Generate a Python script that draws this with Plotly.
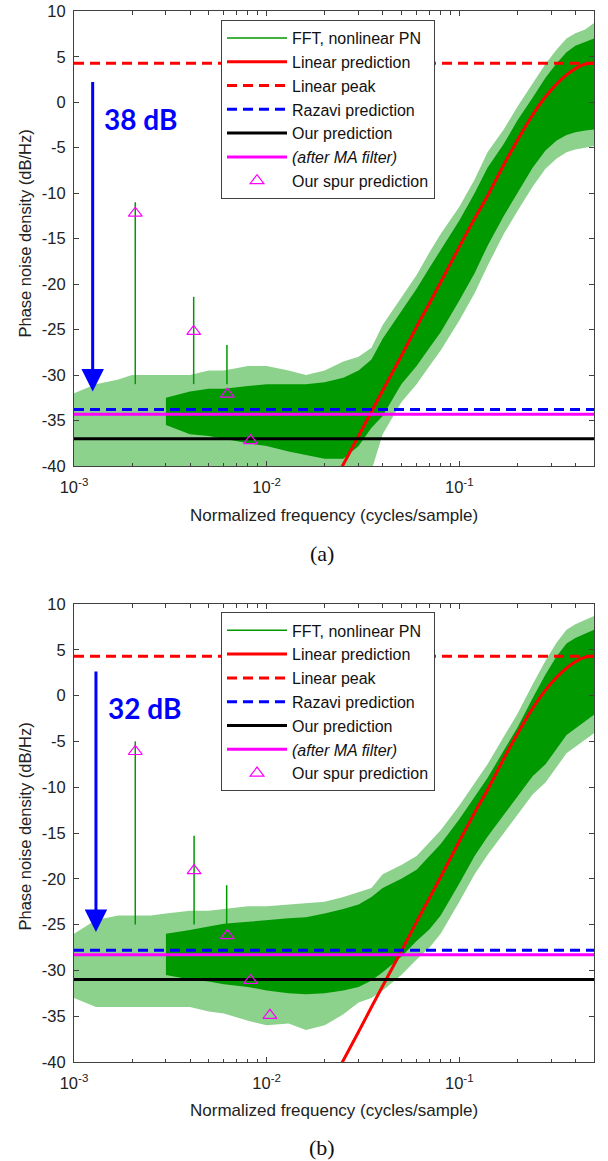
import numpy as np
import plotly.graph_objects as go

# ---------------- data ----------------
x_range = [0.001, 0.5]
y_range = [-40, 10]
x_tickvals = [0.001, 0.01, 0.1]
x_ticktext = ["10<sup>-3</sup>", "10<sup>-2</sup>", "10<sup>-1</sup>"]
y_tickvals = [-40, -35, -30, -25, -20, -15, -10, -5, 0, 5, 10]
y_ticktext = ["-40", "-35", "-30", "-25", "-20", "-15", "-10", "-5", "0", "5", "10"]

# linear prediction (red solid) – same in both panels
lin_f = [0.0243, 0.03, 0.035, 0.04, 0.05, 0.06, 0.07, 0.08, 0.1, 0.12, 0.14,
         0.17, 0.2, 0.24, 0.28, 0.32, 0.36, 0.4, 0.45, 0.5]
lin_db = [-40.3, -36.7, -34.0, -31.7, -27.9, -24.7, -22.1, -19.8, -15.9, -12.8,
          -10.3, -6.9, -4.2, -1.4, 0.6, 2.0, 3.0, 3.7, 4.2, 4.3]
peak_db = 4.3

# FFT envelope frequency grids
band_out_f = [0.001, 0.0013, 0.0017, 0.002, 0.0025, 0.003, 0.004, 0.005, 0.006,
              0.008, 0.01, 0.013, 0.016, 0.02, 0.025, 0.03, 0.035, 0.04, 0.05,
              0.06, 0.07, 0.08, 0.1, 0.12, 0.14, 0.17, 0.2, 0.24, 0.28, 0.32,
              0.36, 0.4, 0.45, 0.5]
band_in_f = [0.003, 0.004, 0.005, 0.006, 0.008, 0.01, 0.013, 0.016, 0.02, 0.025,
             0.03, 0.035, 0.04, 0.05, 0.06, 0.07, 0.08, 0.1, 0.12, 0.14, 0.17,
             0.2, 0.24, 0.28, 0.32, 0.36, 0.4, 0.45, 0.5]

# ---- panel (a) ----
out_up_a = [-32, -31, -30.5, -30, -30, -30, -30, -29.5, -29.5, -29, -29, -29.5,
            -30, -29.5, -28.5, -28, -27, -24.5, -21.5, -19, -16.5, -14.5, -11.5,
            -8.5, -5.5, -3.0, -0.5, 2.0, 4.2, 5.8, 7.0, 7.6, 8.0, 8.7]
out_lo_a = [-41, -41, -41, -41, -41, -41, -41, -41, -41, -41, -41, -41, -41,
            -41, -41, -41, -40.5, -36.5, -33, -31, -29, -27.3, -24, -21,
            -18, -14.5, -12, -9.3, -7.3, -6.2, -5.5, -5.2, -5.0, -4.8]
in_up_a = [-32.5, -31.8, -31.5, -31.5, -31.2, -31, -31, -31, -30.8, -30.3, -29.5,
           -28.3, -26, -23, -20.5, -18.2, -16.2, -13, -10, -7.2, -4.6, -2, 0.5,
           2.7, 4.3, 5.5, 6.2, 6.6, 7.0]
in_lo_a = [-35.5, -36.5, -36.7, -37, -37.5, -37.8, -38.4, -38.8, -39.2, -39.2,
           -37.8, -35.8, -34.5, -31, -29, -27, -25.3, -21.8, -18.8, -15.8, -12.5,
           -10, -7.2, -5.3, -4.2, -3.6, -3.3, -3.1, -3.0]
spur_f_a = [0.00208, 0.00418, 0.00622]
spur_top_a = [-11.0, -21.4, -26.7]
spur_base_a = [-31.0, -31.0, -31.0]
spur_pred_f_a = [0.00208, 0.00418, 0.00625, 0.00824]
spur_pred_db_a = [-12.2, -25.2, -32.1, -37.2]
razavi_a = -33.8
ours_a = -37.0
ma_a = -34.3
arrow_f_a, arrow_top_a, arrow_tip_a = 0.00125, 2.4, -31.8
label_a = "38 dB"
label_f_a, label_db_a = 0.0014, -1.85

# ---- panel (b) ----
out_up_b = [-26, -24.5, -24, -24, -24, -23.8, -23.5, -23.5, -23.3, -23, -23,
            -22.8, -22.7, -22.5, -22, -21.5, -21, -19.5, -18.5, -17.5, -16,
            -14.7, -12, -9.5, -7.5, -4.5, -2, 1.2, 3.8, 5.8, 7.2, 7.8, 8.3, 8.7]
out_lo_b = [-33, -34, -34, -34, -34, -34, -34, -34.5, -34.7, -35.5, -36, -35.8,
            -36.5, -36, -34.8, -33.5, -33, -32.2, -30.5, -28.8, -27.5, -26,
            -22.5, -19.5, -17.4, -15, -13, -10.8, -9.5, -7.8, -6.3, -5.5, -4.8, -4.1]
in_up_b = [-26, -25.6, -25.2, -24.9, -24.7, -24.5, -24.3, -24.2, -23.8, -23.3,
           -22.8, -22, -21, -20, -19, -17.5, -16.2, -13.5, -11, -9, -6,
           -3.5, -0.3, 2.3, 4.3, 5.7, 6.3, 6.8, 7.2]
in_lo_b = [-30.5, -31, -31.2, -31.5, -31.8, -32.2, -32.5, -32.6, -32.5, -32.2,
           -31.8, -31.1, -30.2, -28.5, -26.8, -25.5, -24, -20.5, -17.5, -15.4,
           -13, -11, -8.8, -7.5, -5.8, -4.3, -3.5, -2.8, -2.1]
spur_f_b = [0.00208, 0.0042, 0.0062]
spur_top_b = [-5.0, -15.3, -20.7]
spur_base_b = [-25.0, -25.0, -25.0]
spur_pred_f_b = [0.00208, 0.0042, 0.00625, 0.00824, 0.0104]
spur_pred_db_b = [-6.1, -19.1, -26.2, -31.1, -34.9]
razavi_b = -27.8
ours_b = -31.0
ma_b = -28.3
arrow_f_b, arrow_top_b, arrow_tip_b = 0.0013, 2.8, -25.8
label_b = "32 dB"
label_f_b, label_db_b = 0.00146, -1.4

# ---------------- styling / layout constants ----------------
W, H = 608, 1161
GREEN = "#009900"
LIGHT_GREEN = "rgba(0,153,0,0.45)"
AXC = "#404040"
SANS = "Liberation Sans, Arial, sans-serif"
x_dom = [74 / W, 594 / W]
y_dom_a = [1 - 466 / H, 1 - 11.3 / H]
y_dom_b = [1 - 1062 / H, 1 - 604 / H]
minor_x = [m * 10.0 ** e for e in (-3, -2, -1) for m in range(2, 10) if m * 10.0 ** e <= 0.5]

fig = go.Figure()


def add_panel(xa, ya, leg, out_up, out_lo, in_up, in_lo, spur_f, spur_top, spur_base,
              sp_f, sp_db, razavi, ours, ma):
    common = dict(xaxis=xa, yaxis=ya, legend=leg)
    sx, sy = [], []
    for f, t, b in zip(spur_f, spur_top, spur_base):
        sx += [f, f, None]
        sy += [b, t, None]
    fig.add_trace(go.Scatter(x=sx, y=sy, mode="lines", line=dict(color=GREEN, width=1.5),
                             name="FFT, nonlinear PN", **common))
    fig.add_trace(go.Scatter(x=band_out_f + band_out_f[::-1], y=out_up + out_lo[::-1],
                             mode="lines", fill="toself", fillcolor=LIGHT_GREEN,
                             line=dict(width=0, color=LIGHT_GREEN), showlegend=False, **common))
    fig.add_trace(go.Scatter(x=band_in_f + band_in_f[::-1], y=in_up + in_lo[::-1],
                             mode="lines", fill="toself", fillcolor=GREEN,
                             line=dict(width=0, color=GREEN), showlegend=False, **common))
    fig.add_trace(go.Scatter(x=lin_f, y=lin_db, mode="lines",
                             line=dict(color="#FF0000", width=3, shape="spline"),
                             name="Linear prediction", **common))
    fig.add_trace(go.Scatter(x=x_range, y=[peak_db, peak_db], mode="lines",
                             line=dict(color="#FF0000", width=3, dash="10px,6px"),
                             name="Linear peak", **common))
    fig.add_trace(go.Scatter(x=x_range, y=[razavi, razavi], mode="lines",
                             line=dict(color="#0000FF", width=3, dash="10px,6px"),
                             name="Razavi prediction", **common))
    fig.add_trace(go.Scatter(x=x_range, y=[ours, ours], mode="lines",
                             line=dict(color="#000000", width=3),
                             name="Our prediction", **common))
    fig.add_trace(go.Scatter(x=x_range, y=[ma, ma], mode="lines",
                             line=dict(color="#FF00FF", width=3),
                             name="<i>(after MA filter)</i>", **common))
    fig.add_trace(go.Scatter(x=sp_f, y=sp_db, mode="markers",
                             marker=dict(symbol="triangle-up-open", size=12, color="#FF00FF",
                                         line=dict(width=1.2, color="#FF00FF")),
                             name="Our spur prediction", **common))


add_panel("x", "y", "legend", out_up_a, out_lo_a, in_up_a, in_lo_a, spur_f_a, spur_top_a,
          spur_base_a, spur_pred_f_a, spur_pred_db_a, razavi_a, ours_a, ma_a)
add_panel("x2", "y2", "legend2", out_up_b, out_lo_b, in_up_b, in_lo_b, spur_f_b, spur_top_b,
          spur_base_b, spur_pred_f_b, spur_pred_db_b, razavi_b, ours_b, ma_b)

tickfont = dict(family=SANS, size=16.5, color="#222222")


def xaxis(anchor):
    return dict(type="log", range=[np.log10(x_range[0]), np.log10(x_range[1])], domain=x_dom,
                anchor=anchor, showline=True, linecolor=AXC, linewidth=1, mirror="ticks",
                ticks="inside", ticklen=5, tickwidth=1, tickcolor=AXC,
                tickmode="array", tickvals=x_tickvals, ticktext=x_ticktext, tickfont=tickfont,
                ticklabelstandoff=6,
                minor=dict(ticks="inside", ticklen=3.5, tickwidth=1, tickcolor=AXC,
                           tickmode="array", tickvals=minor_x, showgrid=False),
                showgrid=False, zeroline=False, automargin=False)


def yaxis(anchor, dom):
    return dict(range=y_range, domain=dom, anchor=anchor, showline=True, linecolor=AXC,
                linewidth=1, mirror="ticks", ticks="inside", ticklen=5, tickwidth=1,
                tickcolor=AXC, tickmode="array", tickvals=y_tickvals, ticktext=y_ticktext,
                tickfont=tickfont, ticklabelstandoff=4,
                showgrid=False, zeroline=False, automargin=False)


legend_style = dict(font=dict(family=SANS, size=16, color="#111111"), bgcolor="white",
                    bordercolor=AXC, borderwidth=1, itemwidth=60, tracegroupgap=0,
                    xanchor="left", yanchor="top", x=221 / W)

annotations = []
for (ya, xa, af, atop, atip, lab, lf, ld, ycap, ytitle, ylab, cap) in [
    ("y", "x", arrow_f_a, arrow_top_a, arrow_tip_a, label_a, label_f_a, label_db_a,
     1 - 553 / H, 1 - 515 / H, 1 - 234 / H, "(a)"),
    ("y2", "x2", arrow_f_b, arrow_top_b, arrow_tip_b, label_b, label_f_b, label_db_b,
     1 - 1147 / H, 1 - 1110 / H, 1 - 827 / H, "(b)"),
]:
    annotations.append(dict(x=np.log10(af), y=atip, ax=np.log10(af), ay=atop,
                            xref=xa, yref=ya, axref=xa, ayref=ya, text="", showarrow=True,
                            arrowhead=2, arrowsize=1.5, arrowwidth=3, arrowcolor="#0000FF"))
    annotations.append(dict(x=np.log10(lf), y=ld, xref=xa, yref=ya, text="<b>" + lab + "</b>",
                            showarrow=False, xanchor="left", yanchor="middle",
                            font=dict(family="Lato, Open Sans, sans-serif", size=28, color="#0000FF")))
    annotations.append(dict(x=0.5, y=ytitle, xref=xa + " domain", yref="paper",
                            text="Normalized frequency (cycles/sample)", showarrow=False,
                            xanchor="center", yanchor="middle",
                            font=dict(family=SANS, size=17, color="#222222")))
    annotations.append(dict(x=24.5 / W, y=ylab, xref="paper", yref="paper",
                            text="Phase noise density (dB/Hz)", textangle=-90, showarrow=False,
                            xanchor="center", yanchor="middle",
                            font=dict(family=SANS, size=16.5, color="#222222")))
    annotations.append(dict(x=321.5 / W, y=ycap, xref="paper", yref="paper",
                            text=cap, showarrow=False, xanchor="center", yanchor="middle",
                            font=dict(family="Liberation Serif, Times New Roman, serif", size=22,
                                      color="#111111")))

fig.update_layout(
    width=W, height=H, margin=dict(l=0, r=0, t=0, b=0),
    paper_bgcolor="white", plot_bgcolor="white", template="none",
    xaxis=xaxis("y"), yaxis=yaxis("x", y_dom_a),
    xaxis2=xaxis("y2"), yaxis2=yaxis("x2", y_dom_b),
    legend=dict(**legend_style, y=1 - 20 / H),
    legend2=dict(**legend_style, y=1 - 612.4 / H),
    annotations=annotations,
    showlegend=True,
)

fig.write_html("out.html", config={"displayModeBar": False},
               post_script="document.body.style.margin='0';document.body.style.overflow='hidden';")
